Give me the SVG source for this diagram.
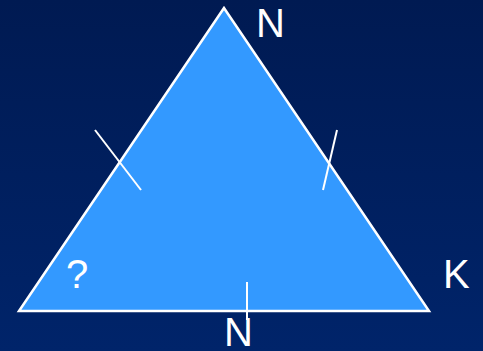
<svg xmlns="http://www.w3.org/2000/svg" width="483" height="351" viewBox="0 0 483 351">
<defs>
<linearGradient id="bg" x1="0" y1="0" x2="0" y2="1">
<stop offset="0" stop-color="#001a52"/>
<stop offset="1" stop-color="#00246a"/>
</linearGradient>
</defs>
<style>
.lbl{font-family:"Liberation Sans",Arial,sans-serif;font-size:40px;fill:#ffffff}
.tick{stroke:#ffffff;stroke-width:2;fill:none}
</style>
<rect x="0" y="0" width="483" height="351" fill="url(#bg)"/>
<g id="triangle">
<polygon points="224,8 19,311 429,311" fill="#3399ff" stroke="#ffffff" stroke-width="2.5" stroke-linejoin="miter"/>
</g>
<g id="ticks">
<line class="tick" x1="95" y1="130" x2="141" y2="190"/>
<line class="tick" x1="337" y1="130" x2="323" y2="190"/>
<line class="tick" x1="247" y1="282" x2="247" y2="320"/>
</g>
<g id="labels">
<text class="lbl" x="256" y="37">N</text>
<text class="lbl" x="66" y="288">?</text>
<text class="lbl" x="224" y="346">N</text>
<text class="lbl" x="443" y="288">K</text>
</g>
</svg>
